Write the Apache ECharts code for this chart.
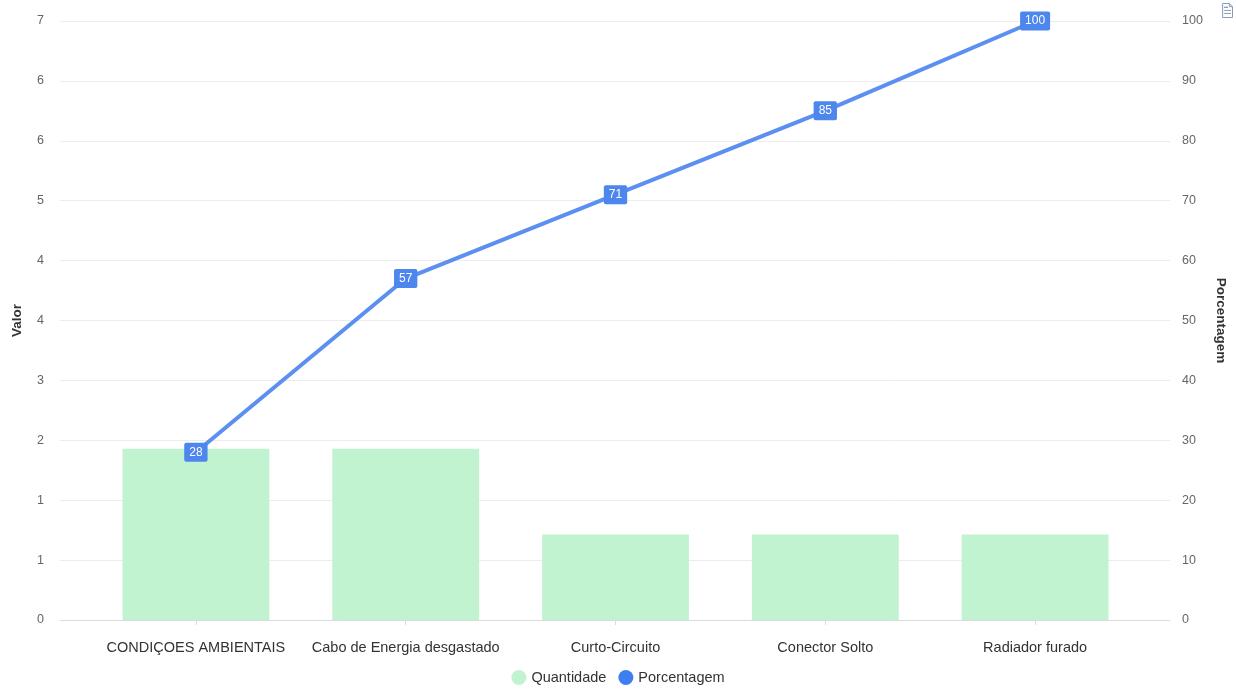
<!DOCTYPE html>
<html>
<head>
<meta charset="utf-8">
<script src="https://cdn.jsdelivr.net/npm/echarts@6/dist/echarts.min.js"></script>
<style>
  html, body { margin: 0; padding: 0; background: #fff; }
  #chart { width: 1236px; height: 689px; }
</style>
</head>
<body>
<div id="chart"></div>
<script>
const categories = ["CONDIÇOES AMBIENTAIS", "Cabo de Energia desgastado", "Curto-Circuito", "Conector Solto", "Radiador furado"]
const quantidade = [2, 2, 1, 1, 1]
const porcentagem = [28, 57, 71, 85, 100]

const barColor = "#c2f3d1"
const lineColor = "#5b8ff0"
const labelFont = "Helvetica, Arial, 'Liberation Sans', sans-serif"

const chart = echarts.init(document.getElementById("chart"))

// two grids: the outer one carries the y axes and split lines,
// the inner one carries the categories and the series
const outer = { left: 60, right: 64, top: 21, bottom: 69 }
const inner = { left: 91, right: 96, top: 21, bottom: 69 }

const option = {
  backgroundColor: "#fff",
  textStyle: { fontFamily: labelFont },
  toolbox: {
    right: -14,
    top: -14,
    itemSize: 14,
    feature: { dataView: { readOnly: true } },
    iconStyle: { borderColor: "#8a9bb5" }
  },
  legend: {
    bottom: -1,
    left: "center",
    icon: "circle",
    itemWidth: 15,
    itemHeight: 15,
    itemGap: 12,
    textStyle: { color: "#333", fontSize: 14.5, fontFamily: labelFont },
    data: [
      { name: "Quantidade", itemStyle: { color: barColor } },
      { name: "Porcentagem", itemStyle: { color: "#3f7ef0" } }
    ]
  },
  grid: [
    { ...outer },
    { ...inner }
  ],
  xAxis: [
    {
      type: "category",
      gridIndex: 0,
      data: categories,
      axisLabel: { show: false },
      axisTick: { show: false },
      axisLine: { lineStyle: { color: "#dcdcdc" } }
    },
    {
      type: "category",
      gridIndex: 1,
      data: categories,
      axisLine: { show: false },
      axisTick: { show: true, alignWithLabel: true, length: 5, lineStyle: { color: "#dcdcdc" } },
      axisLabel: { color: "#333", fontSize: 14.5, margin: 20, interval: 0, fontFamily: labelFont }
    }
  ],
  yAxis: [
    {
      type: "value",
      gridIndex: 0,
      position: "left",
      name: "Valor",
      nameLocation: "middle",
      nameGap: 36,
      nameTextStyle: { color: "#333", fontSize: 13.5, fontWeight: "bold" },
      min: 0,
      max: 7,
      interval: 0.7,
      axisLine: { show: false },
      axisTick: { show: false },
      axisLabel: {
        color: "#666",
        fontSize: 12.5,
        margin: 16,
        formatter: (v) => Math.round(v).toString()
      },
      splitLine: { lineStyle: { color: "#ececec" } }
    },
    {
      type: "value",
      gridIndex: 0,
      position: "right",
      name: "Porcentagem",
      nameLocation: "middle",
      nameGap: 44,
      nameRotate: -90,
      nameTextStyle: { color: "#333", fontSize: 13.5, fontWeight: "bold" },
      min: 0,
      max: 100,
      interval: 10,
      axisLine: { show: false },
      axisTick: { show: false },
      axisLabel: { color: "#666", fontSize: 12.5, margin: 12 },
      splitLine: { show: false }
    },
    {
      type: "value",
      gridIndex: 1,
      min: 0,
      max: 7,
      interval: 0.7,
      show: false
    },
    {
      type: "value",
      gridIndex: 1,
      min: 0,
      max: 100,
      interval: 10,
      show: false
    }
  ],
  series: [
    {
      name: "Quantidade",
      type: "bar",
      xAxisIndex: 1,
      yAxisIndex: 2,
      data: quantidade,
      barWidth: "70%",
      itemStyle: { color: barColor }
    },
    {
      name: "Porcentagem",
      type: "line",
      xAxisIndex: 1,
      yAxisIndex: 3,
      data: porcentagem,
      symbol: "circle",
      symbolSize: 1,
      showSymbol: true,
      lineStyle: { color: lineColor, width: 4 },
      itemStyle: { color: lineColor },
      label: {
        show: true,
        position: "inside",
        color: "#fff",
        fontSize: 12,
        backgroundColor: "#4d86ec",
        borderRadius: 2,
        padding: [4, 5, 3, 5]
      },
      z: 3
    }
  ]
}

chart.setOption(option)
</script>
</body>
</html>
